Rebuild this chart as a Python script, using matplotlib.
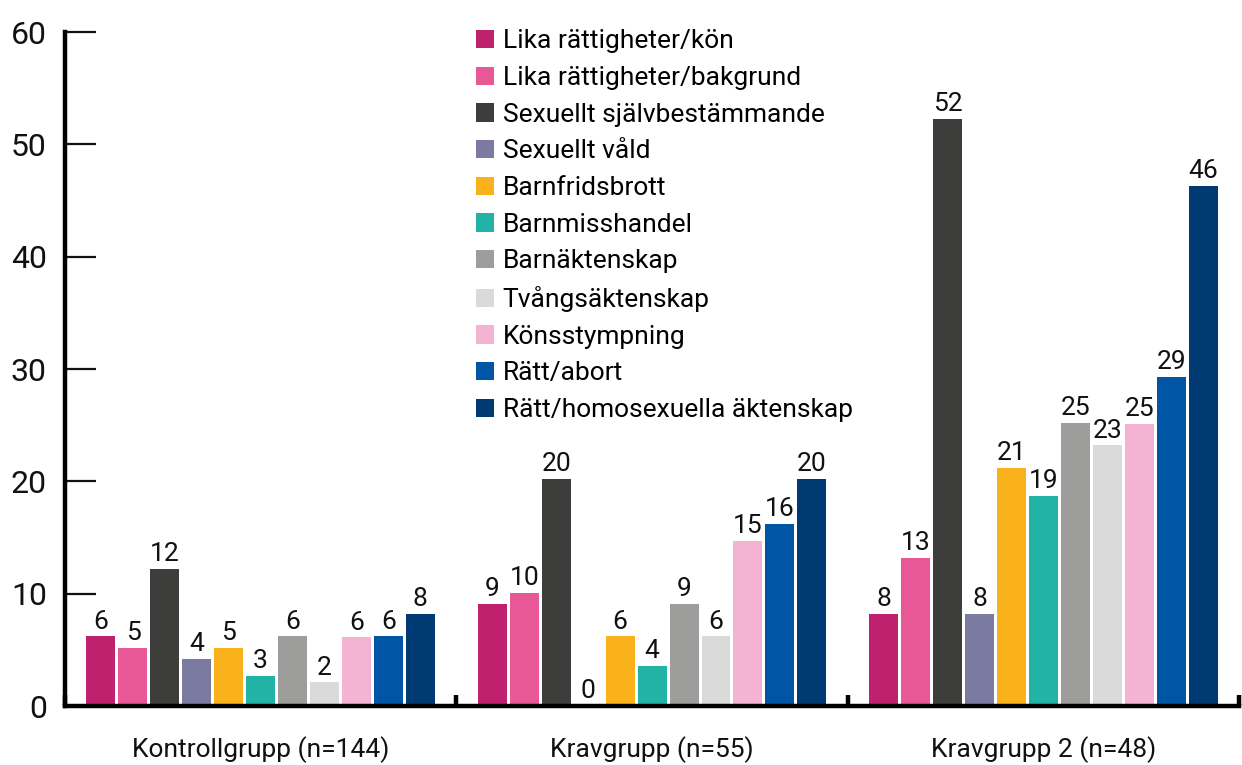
import numpy as np
import matplotlib.pyplot as plt

plt.rcParams['font.family'] = ['Roboto', 'DejaVu Sans']

groups = ['Kontrollgrupp (n=144)', 'Kravgrupp (n=55)', 'Kravgrupp 2 (n=48)']
series = [
    'Lika rättigheter/kön',
    'Lika rättigheter/bakgrund',
    'Sexuellt självbestämmande',
    'Sexuellt våld',
    'Barnfridsbrott',
    'Barnmisshandel',
    'Barnäktenskap',
    'Tvångsäktenskap',
    'Könsstympning',
    'Rätt/abort',
    'Rätt/homosexuella äktenskap',
]
colors = ['#C0216F', '#E85796', '#3D3D3B', '#7B7AA0', '#F9B21B', '#22B3A6',
          '#9D9D9C', '#DADADA', '#F4B3D2', '#0055A4', '#003A72']

# values per group, in series order
kontroll = [6.2, 5.2, 12.2, 4.2, 5.2, 2.7, 6.2, 2.1, 6.1, 6.2, 8.2]
krav = [9.1, 10.1, 20.2, 0.0, 6.2, 3.6, 9.1, 6.2, 14.7, 16.2, 20.2]
krav2 = [8.2, 13.2, 52.3, 8.2, 21.2, 18.7, 25.2, 23.2, 25.1, 29.3, 46.3]
values = np.array([kontroll, krav, krav2])

fig = plt.figure(figsize=(12.42, 7.65), dpi=100)
ax = fig.add_axes([0.0523, 0.0771, 0.9455, 0.881])

x = np.arange(len(groups))
n = len(series)
pitch = 0.0816
width = 0.074
for i, (name, col) in enumerate(zip(series, colors)):
    pos = x + (i - (n - 1) / 2) * pitch
    bars = ax.bar(pos, values[:, i], width=width, color=col, label=name, zorder=2)
    for b, v in zip(bars, values[:, i]):
        ax.annotate(f'{v:.0f}', (b.get_x() + b.get_width() / 2, v),
                    xytext=(0, 2), textcoords='offset points',
                    ha='center', va='bottom', fontsize=19, color='#111111')

ax.set_xlim(-0.5, 2.5)
ax.set_ylim(0, 60)

for s in ['top', 'right']:
    ax.spines[s].set_visible(False)
ax.spines['left'].set_linewidth(3.2)
ax.spines['bottom'].set_linewidth(3.2)
ax.spines['bottom'].set_zorder(3)

ax.set_yticks(np.arange(0, 61, 10))
ax.tick_params(axis='y', direction='in', length=22, width=1.6, pad=13,
               labelsize=23, colors='#111111')

ax.set_xticks([-0.5, 0.5, 1.5, 2.5])
ax.set_xticklabels([])
ax.tick_params(axis='x', which='major', direction='in', length=8, width=3.2)
ax.set_xticks(x, minor=True)
ax.set_xticklabels(groups, minor=True)
ax.tick_params(axis='x', which='minor', length=0, pad=22, labelsize=19,
               colors='#111111')

ax.legend(loc='upper left', bbox_to_anchor=(0.383, 0.9615),
          bbox_transform=fig.transFigure, frameon=False, fontsize=19,
          handlelength=0.68, handleheight=0.68, handletextpad=0.35,
          labelspacing=0.48, borderaxespad=0, borderpad=0)

fig.savefig('out.png', dpi=100)
